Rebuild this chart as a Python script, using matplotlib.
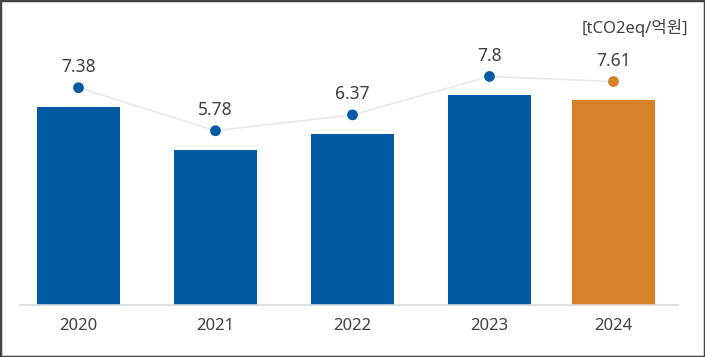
import matplotlib.pyplot as plt
from matplotlib.patches import Rectangle

plt.rcParams['font.family'] = ['Noto Sans', 'Noto Sans CJK KR', 'DejaVu Sans']

# data
years = ['2020', '2021', '2022', '2023', '2024']
intensity = [7.38, 5.78, 6.37, 7.8, 7.61]
value_labels = ['7.38', '5.78', '6.37', '7.8', '7.61']
unit = '[tCO2eq/억원]'

# layout (last category sits a bit closer in the original)
positions = [0, 1, 2, 3, 3.905]
blue = '#005BA3'
orange = '#D6802A'
bar_colors = [blue, blue, blue, blue, orange]
text_color = '#404040'

fig = plt.figure(figsize=(7.05, 3.57), dpi=100)
ax = fig.add_axes([20 / 705, 52 / 357, 658 / 705, 295 / 357])

ax.bar(positions, intensity, width=0.606, color=bar_colors, zorder=2)

# marker line floats a fixed distance above each bar
offset = 0.7
line_y = [v + offset for v in intensity]
ax.plot(positions, line_y, color='#E8E8E8', lw=1.2, zorder=3)
ax.scatter(positions, line_y, s=60, color=bar_colors, zorder=4, edgecolors='none')
for x, y, lab in zip(positions, line_y, value_labels):
    ax.annotate(lab, (x, y), xytext=(0, 8.5), textcoords='offset points',
                ha='center', va='bottom', fontsize=12.5, color=text_color)

ax.set_xlim(-0.427, 4.376)
ax.set_ylim(0, 10.97)
ax.set_xticks(positions)
ax.set_xticklabels(years, fontsize=12, color=text_color)
ax.tick_params(axis='x', length=0, pad=9)
ax.set_yticks([])
for side in ['top', 'right', 'left']:
    ax.spines[side].set_visible(False)
ax.spines['bottom'].set_color('#D9D9D9')
ax.spines['bottom'].set_linewidth(1.2)

fig.text(688 / 705, 1 - 28 / 357, unit, ha='right', va='center',
         fontsize=12, color=text_color)

# outer frame
fig.patches.append(Rectangle((0, 0), 1, 1, transform=fig.transFigure,
                             fill=False, edgecolor='#444444', lw=2.5))

fig.savefig('out.png', dpi=100)
